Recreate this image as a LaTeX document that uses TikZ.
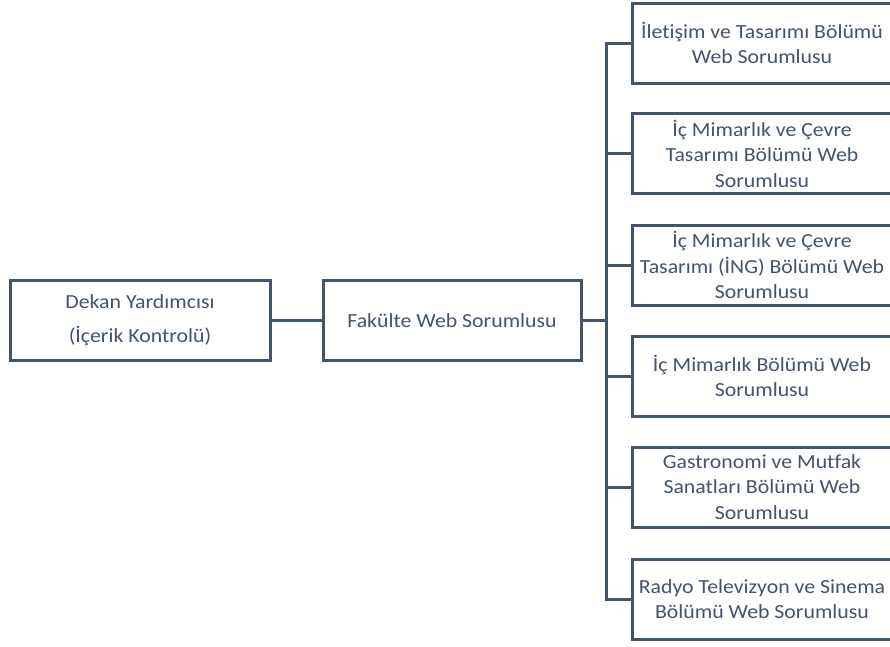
\documentclass[tikz,border=0pt]{standalone}
\usepackage{fontspec}
\setmainfont{Carlito}[FakeStretch=1.09,Ligatures=NoCommon]
\usepackage{xcolor}
\definecolor{slate}{HTML}{44546A}

\begin{document}
\begin{tikzpicture}[x=1pt,y=-1pt,line width=3pt,draw=slate,
    unit box/.style={rectangle,draw=slate,fill=white,text=slate,minimum width=260pt,minimum height=80pt,
      align=center,inner sep=2pt,font=\fontsize{20}{25.5}\selectfont}]
              \useasboundingbox (0,0) rectangle (890,646);
              \clip (0,0) rectangle (890,646);

              \node[unit box, font=\fontsize{20}{34}\selectfont] (dekan) at (140,320.5) {Dekan Yard\i mc\i s\i\\(İçerik Kontrolü)};
              \node[unit box, minimum width=258pt] (fakulte) at (452,320.5) {Fakülte Web Sorumlusu};
              \coordinate (trunk) at (606,320.5);

              \node[unit box] (iletisim) at (762,43) {İletişim ve Tasar\i m\i{} Bölümü\\Web Sorumlusu};
              \node[unit box] (icmimcevre) at (762,153.5) {İç Mimarl\i k ve Çevre\\Tasar\i m\i{} Bölümü Web\\Sorumlusu};
              \node[unit box] (icmimcevreing) at (762,265) {İç Mimarl\i k ve Çevre\\Tasar\i m\i{} (İNG) Bölümü Web\\Sorumlusu};
              \node[unit box] (icmim) at (762,376) {İç Mimarl\i k Bölümü Web\\Sorumlusu};
              \node[unit box] (gastro) at (762,487) {Gastronomi ve Mutfak\\Sanatlar\i{} Bölümü Web\\Sorumlusu};
              \node[unit box] (radyo) at (762,599) {Radyo Televizyon ve Sinema\\Bölümü Web Sorumlusu};

              \draw[slate] (dekan) -- (fakulte);
              \draw[slate] (fakulte) -- (trunk);

              \draw[slate]
                (trunk) |- (iletisim)
                (trunk) |- (icmimcevre)
                (trunk) |- (icmimcevreing)
                (trunk) |- (icmim)
                (trunk) |- (gastro)
                (trunk) |- (radyo)
                ;
            \end{tikzpicture}
\end{document}
